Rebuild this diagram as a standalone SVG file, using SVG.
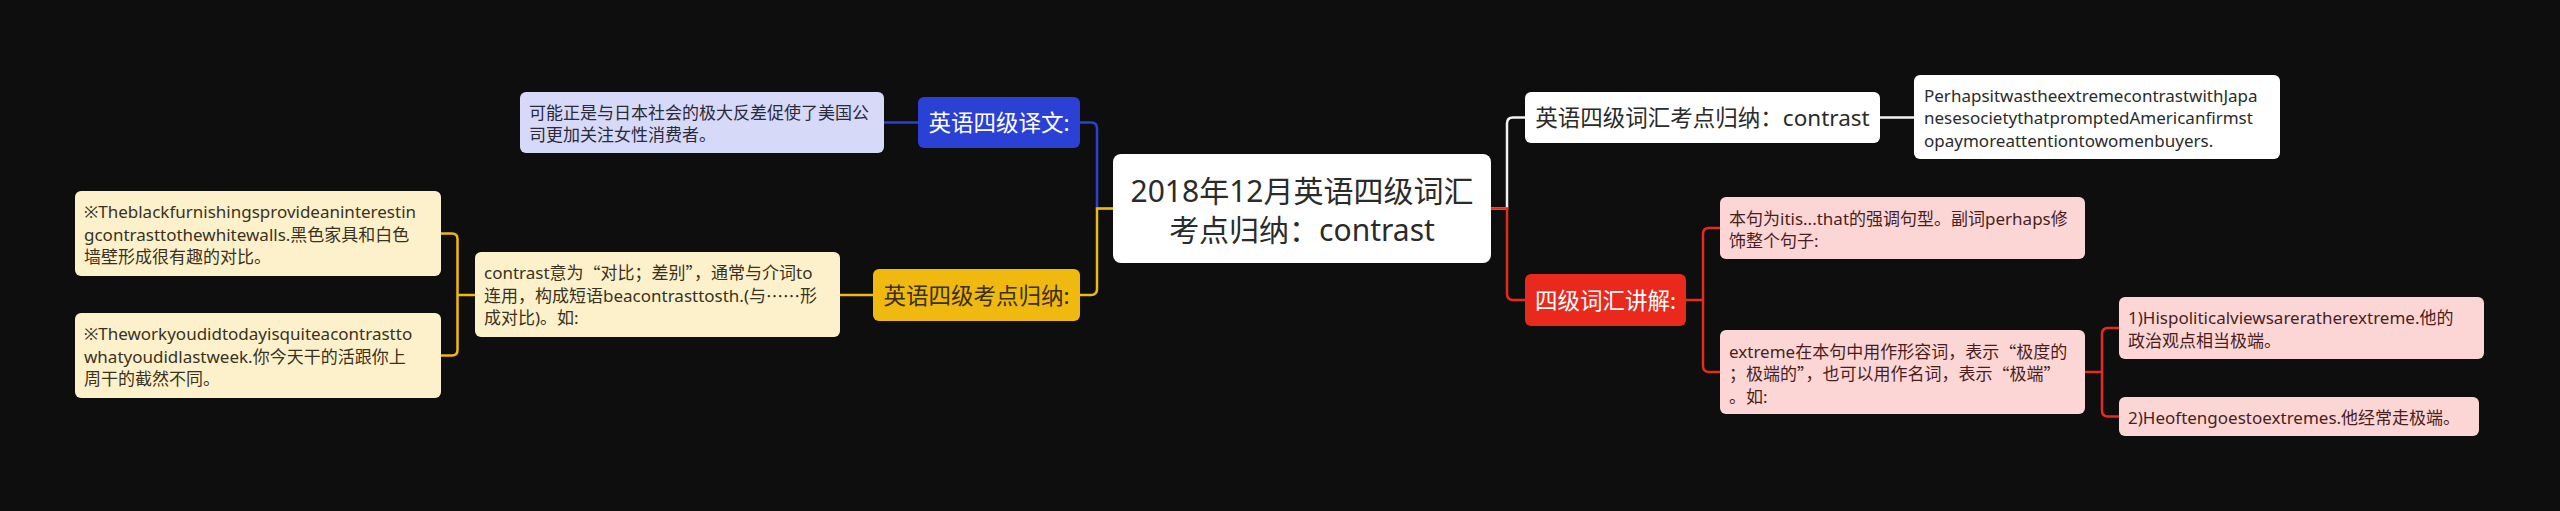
<svg xmlns="http://www.w3.org/2000/svg" width="2560" height="511" viewBox="0 0 2560 511">
<defs>
<style>
text{font-family:"Noto Sans","Noto Sans CJK SC",sans-serif;dominant-baseline:central}
.q{font-family:"Noto Sans CJK SC",sans-serif}
.s{font-size:17px}
.m{font-size:22.5px;text-anchor:middle}
.title{font-size:30px;text-anchor:middle;fill:#2b2b2b}
.c{fill:none;stroke-width:2.5;stroke-linecap:round}
.blue{stroke:#2b40d5}.yel{stroke:#efb90f}.red{stroke:#e8291b}.wht{stroke:#f2f2f2}
</style>
</defs>
<rect width="2560" height="511" fill="#0e0e0e"/>
<g id="connectors">
<path class="c blue" d="M1113,208.5 H1097 V128.5 Q1097,122.5 1091,122.5 H1080"/>
<path class="c yel" d="M1113,208.5 H1097 V289 Q1097,295 1091,295 H1080"/>
<path class="c wht" d="M1491,208.5 H1507 V123.5 Q1507,117.5 1513,117.5 H1525"/>
<path class="c red" d="M1491,208.5 H1507 V294 Q1507,300 1513,300 H1525"/>
<path class="c blue" d="M918,122.5 H884"/>
<path class="c yel" d="M873,295 H840"/>
<path class="c yel" d="M475,295 H457.5 V239 Q457.5,233.5 452,233.5 H441 M457.5,295 V350 Q457.5,355.5 452,355.5 H441"/>
<path class="c wht" d="M1880,117.5 H1914"/>
<path class="c red" d="M1686,300 H1703 V234 Q1703,228 1709,228 H1720 M1703,300 V366 Q1703,372 1709,372 H1720"/>
<path class="c red" d="M2085,372 H2102 V334 Q2102,328 2108,328 H2119 M2102,372 V410.5 Q2102,416.5 2108,416.5 H2119"/>
</g>
<g id="root">
<rect x="1113" y="154" width="378" height="109" rx="8" fill="#ffffff"/>
<text class="title" x="1302" y="190">2018年12月英语四级词汇</text>
<text class="title" x="1302" y="229">考点归纳：contrast</text>
</g>
<g id="n-yiwen">
<rect x="918" y="97" width="162" height="51" rx="6" fill="#2b40d5"/>
<text class="m" x="999" y="122.5" fill="#ffffff">英语四级译文:</text>
</g>
<g id="n-yiwen-text">
<rect x="520" y="92" width="364" height="61" rx="6" fill="#d6d9f8"/>
<text class="s" fill="#2a2a3a"><tspan x="529" y="111.5">可能正是与日本社会的极大反差促使了美国公</tspan><tspan x="529" y="133.5">司更加关注女性消费者。</tspan></text>
</g>
<g id="n-kaodian">
<rect x="873" y="269" width="207" height="52" rx="6" fill="#efb90f"/>
<text class="m" x="976.5" y="295" fill="#3a2f10">英语四级考点归纳:</text>
</g>
<g id="n-contrast-def">
<rect x="475" y="252" width="365" height="85" rx="6" fill="#fdf1cc"/>
<text class="s" fill="#3a3220"><tspan x="484" y="272">contrast意为<tspan class="q">“</tspan>对比；差别<tspan class="q">”</tspan>，通常与介词to</tspan><tspan x="484" y="294.5">连用，构成短语beacontrasttosth.(与<tspan class="q">……</tspan>形</tspan><tspan x="484" y="317">成对比)。如:</tspan></text>
</g>
<g id="n-ex1">
<rect x="75" y="191" width="366" height="85" rx="6" fill="#fdf1cc"/>
<text class="s" fill="#3a3220"><tspan x="84" y="211">※Theblackfurnishingsprovideaninterestin</tspan><tspan x="84" y="233.5">gcontrasttothewhitewalls.黑色家具和白色</tspan><tspan x="84" y="256">墙壁形成很有趣的对比。</tspan></text>
</g>
<g id="n-ex2">
<rect x="75" y="313" width="366" height="85" rx="6" fill="#fdf1cc"/>
<text class="s" fill="#3a3220"><tspan x="84" y="333">※Theworkyoudidtodayisquiteacontrastto</tspan><tspan x="84" y="355.5">whatyoudidlastweek.你今天干的活跟你上</tspan><tspan x="84" y="378">周干的截然不同。</tspan></text>
</g>
<g id="n-vocab">
<rect x="1525" y="92" width="355" height="51" rx="6" fill="#ffffff"/>
<text class="m" x="1702.5" y="117.5" fill="#2b2b2b">英语四级词汇考点归纳：contrast</text>
</g>
<g id="n-sentence">
<rect x="1914" y="75" width="366" height="84" rx="6" fill="#ffffff"/>
<text class="s" fill="#2b2b2b"><tspan x="1924" y="94.5">PerhapsitwastheextremecontrastwithJapa</tspan><tspan x="1924" y="117">nesesocietythatpromptedAmericanfirmst</tspan><tspan x="1924" y="139.5">opaymoreattentiontowomenbuyers.</tspan></text>
</g>
<g id="n-explain">
<rect x="1525" y="274" width="161" height="52" rx="6" fill="#e8291b"/>
<text class="m" x="1605.5" y="300" fill="#ffffff">四级词汇讲解:</text>
</g>
<g id="n-p1">
<rect x="1720" y="197" width="365" height="62" rx="6" fill="#fcd6d4"/>
<text class="s" fill="#4a1e1e"><tspan x="1729" y="217.5">本句为itis...that的强调句型。副词perhaps修</tspan><tspan x="1729" y="240">饰整个句子:</tspan></text>
</g>
<g id="n-p2">
<rect x="1720" y="330" width="365" height="84" rx="6" fill="#fcd6d4"/>
<text class="s" fill="#4a1e1e"><tspan x="1729" y="350.5">extreme在本句中用作形容词，表示<tspan class="q">“</tspan>极度的</tspan><tspan x="1729" y="373">；极端的<tspan class="q">”</tspan>，也可以用作名词，表示<tspan class="q">“</tspan>极端<tspan class="q">”</tspan></tspan><tspan x="1729" y="395.5">。如:</tspan></text>
</g>
<g id="n-p3">
<rect x="2119" y="297" width="365" height="62" rx="6" fill="#fcd6d4"/>
<text class="s" fill="#4a1e1e"><tspan x="2128" y="317">1)Hispoliticalviewsareratherextreme.他的</tspan><tspan x="2128" y="339.5">政治观点相当极端。</tspan></text>
</g>
<g id="n-p4">
<rect x="2119" y="397" width="360" height="39" rx="6" fill="#fcd6d4"/>
<text class="s" x="2128" y="417" fill="#4a1e1e">2)Heoftengoestoextremes.他经常走极端。</text>
</g>
</svg>
